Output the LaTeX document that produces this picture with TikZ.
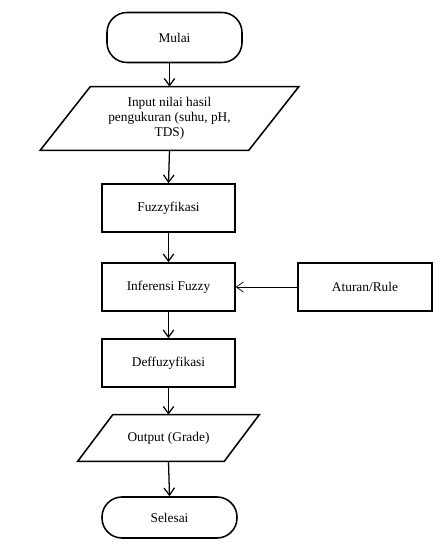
\documentclass[tikz,border=0pt]{standalone}
\usepackage{fontspec}
\setmainfont{Liberation Serif}
\usetikzlibrary{arrows.meta}

\begin{document}
\begin{tikzpicture}[>={Straight Barb[length=1.8mm,width=2.6mm]},x=1.0cm,y=1.0cm,
	every node/.style={font=\fontsize{9.5}{10.5}\selectfont},
	garis/.style={line width=1.1pt},
	proses/.style={draw,garis,minimum width=3.325cm,minimum height=1.2cm,inner sep=0pt},
	terminal/.style={draw,garis,rounded corners=0.5cm,minimum width=3.375cm,inner sep=0pt},
	data/.style={inner sep=0pt,align=center},
	alir/.style={->,line width=0.9pt}]
			\useasboundingbox (0,0) rectangle (11.2,13.65);
			\node[terminal,minimum height=1.25cm] (mulai) at (4.3625,12.7125) {Mulai};
			\node[data,minimum width=5.2cm,minimum height=1.575cm] (input) at (4.2375,10.6875) {Input nilai hasil\\pengukuran (suhu, pH,\\TDS)};
			\node[proses] (fuzzy) at (4.2125,8.45) {Fuzzyfikasi};
			\node[proses] (inferensi) at (4.2125,6.475) {Inferensi Fuzzy};
			\node[proses,minimum width=3.35cm] (aturan) at (9.125,6.475) {Aturan/Rule};
			\node[proses] (deff) at (4.2125,4.575) {Deffuzyfikasi};
			\node[data,minimum width=3.65cm,minimum height=1.15cm] (output) at (4.2125,2.7) {Output (Grade)};
			\node[terminal,minimum height=1.025cm] (selesai) at (4.2375,0.7125) {Selesai};
			% jajaran genjang input/output
			\draw [garis] ([xshift=0.625cm]input.north west) -- ([xshift=0.625cm]input.north east) -- ([xshift=-0.625cm]input.south east) -- ([xshift=-0.625cm]input.south west) -- cycle;
			\draw [garis] ([xshift=0.4375cm]output.north west) -- ([xshift=0.4375cm]output.north east) -- ([xshift=-0.4375cm]output.south east) -- ([xshift=-0.4375cm]output.south west) -- cycle;
			\draw [alir] (input.north |- mulai.south) -- (input.north);
			\draw [alir] (input.south) -- (fuzzy.north);
			\draw [alir] (fuzzy.south) -- (inferensi.north);
			\draw [->,line width=0.5pt] (aturan.west) -- (inferensi.east);
			\draw [alir] (inferensi.south) -- (deff.north);
			\draw [alir] (deff.south) -- (output.north);
			\draw [alir] (output.south) -- (selesai.north);
		\end{tikzpicture}
\end{document}
